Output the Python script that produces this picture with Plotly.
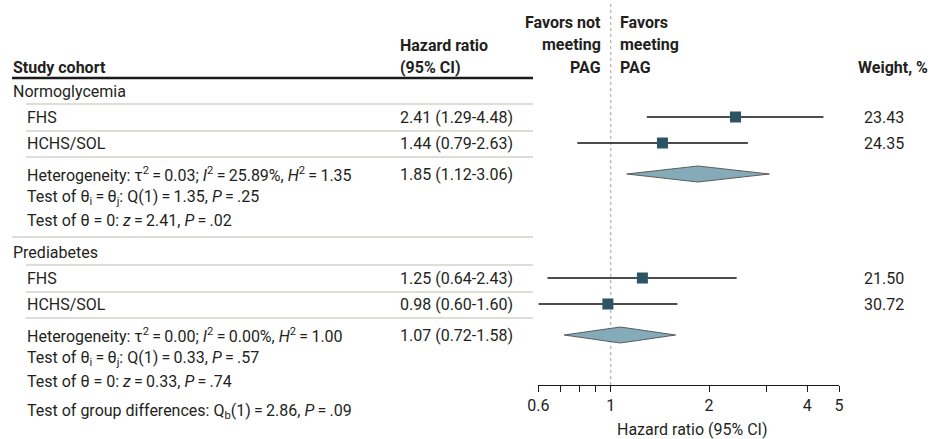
import plotly.graph_objects as go

# ---------------- data ----------------
groups = ["Normoglycemia", "Prediabetes"]
studies = ["FHS", "HCHS/SOL"]
hr = [[2.41, 1.44], [1.25, 0.98]]
hr_lo = [[1.29, 0.79], [0.64, 0.60]]
hr_hi = [[4.48, 2.63], [2.43, 1.60]]
weights = ["23.43", "24.35", "21.50", "30.72"]
pooled = [1.85, 1.07]
pooled_lo = [1.12, 0.72]
pooled_hi = [3.06, 1.58]
het_tau2 = ["0.03", "0.00"]
het_i2 = ["25.89%", "0.00%"]
het_h2 = ["1.35", "1.00"]
q_stat = ["1.35", "0.33"]
q_p = [".25", ".57"]
z_stat = ["2.41", "0.33"]
z_p = [".02", ".74"]
qb_stat = "2.86"
qb_p = ".09"
tick_vals = [0.6, 0.7, 0.8, 0.9, 1, 2, 3, 4, 5]
tick_text = ["0.6", "", "", "", "1", "2", "", "4", "5"]

# ---------------- layout constants ----------------
W, H = 935, 439
FONT = "Roboto"
FS = 16
TXT = "#231f20"
GRAY = "#bdbdb0"
SQ = "#2d5464"
DIA = "#85aab8"
AX_L, AX_R = 538.3, 839.0
AXIS_Y = 385
group_y = [91, 252]
S = "\u2009=\u2009"

def fmt(v):
    return f"{v:.2f}"

fig = go.Figure()
ann = []
shapes = []

def text(px, y, s, anchor="left", bold=False, size=FS):
    if bold:
        s = "<b>" + s + "</b>"
    ann.append(dict(x=px / W, xref="paper", y=y, yref="y", text=s, showarrow=False,
                    xanchor=anchor, yanchor="middle", font=dict(family=FONT, size=size, color=TXT)))

def hline(x0, x1, y, color=GRAY, width=1):
    shapes.append(dict(type="line", xref="paper", yref="y", x0=x0 / W, x1=x1 / W, y0=y, y1=y,
                       line=dict(color=color, width=width)))

# header
text(11, 67, "Study cohort", bold=True)
text(398, 45, "Hazard ratio", bold=True)
text(398, 67, "(95% CI)", bold=True)
for i, s in enumerate(["Favors not", "meeting", "PAG"]):
    text(603, 22 + 22.5 * i, s, anchor="right", bold=True)
for i, s in enumerate(["Favors", "meeting", "PAG"]):
    text(618, 22 + 22.5 * i, s, bold=True)
text(856, 67, "Weight, %", bold=True)
hline(12, 533, 78, color="#1a1a1a", width=2.5)

wx, wy = [], []
mx, my = [], []
k = 0
for g in range(2):
    gy = group_y[g]
    text(11, gy, groups[g])
    hline(26, 533, gy + 13)
    for s in range(2):
        ry = gy + 26 * (s + 1)
        text(25, ry, studies[s])
        text(398, ry, f"{fmt(hr[g][s])} ({fmt(hr_lo[g][s])}-{fmt(hr_hi[g][s])})")
        text(862, ry, weights[k])
        k += 1
        hline(26, 533, ry + 14)
        wx += [hr_lo[g][s], hr_hi[g][s], None]
        wy += [ry, ry, None]
        mx.append(hr[g][s])
        my.append(ry)
    hy = gy + 83
    text(25, hy, f"Heterogeneity: τ<sup>2</sup>{S}{het_tau2[g]}; <i>I</i><sup>2</sup>{S}{het_i2[g]}, <i>H</i><sup>2</sup>{S}{het_h2[g]}")
    text(25, hy + 23, f"Test of θ<sub>i</sub>{S}θ<sub>j</sub>: Q(1){S}{q_stat[g]}, <i>P</i>{S}{q_p[g]}")
    text(25, hy + 46, f"Test of θ = 0: <i>z</i>{S}{z_stat[g]}, <i>P</i>{S}{z_p[g]}")
    text(398, hy, f"{fmt(pooled[g])} ({fmt(pooled_lo[g])}-{fmt(pooled_hi[g])})")
    fig.add_trace(go.Scatter(
        x=[pooled_lo[g], pooled[g], pooled_hi[g], pooled[g], pooled_lo[g]],
        y=[hy, hy - 8, hy, hy + 8, hy], mode="lines", fill="toself",
        fillcolor=DIA, line=dict(color="#5c5c5c", width=1), hoverinfo="skip", showlegend=False))

hline(12, 533, 237)
text(25, 411, f"Test of group differences: Q<sub>b</sub>(1){S}{qb_stat}, <i>P</i>{S}{qb_p}")

fig.add_trace(go.Scatter(x=wx, y=wy, mode="lines", line=dict(color="#111111", width=1.3),
                         hoverinfo="skip", showlegend=False))
fig.add_trace(go.Scatter(x=mx, y=my, mode="markers",
                         marker=dict(symbol="square", size=11, color=SQ, line=dict(width=0)),
                         showlegend=False))

# reference line at HR = 1
shapes.append(dict(type="line", xref="x", yref="y", x0=1, x1=1, y0=4, y1=AXIS_Y,
                   line=dict(color="#a0a0a0", width=1, dash="dot"), layer="below"))

# axis title
ann.append(dict(x=692 / W, xref="paper", y=429, yref="y", text="Hazard ratio (95% CI)",
                showarrow=False, xanchor="center", yanchor="middle",
                font=dict(family=FONT, size=FS, color=TXT)))

fig.update_layout(
    width=W, height=H, margin=dict(l=0, r=0, t=0, b=0),
    paper_bgcolor="white", plot_bgcolor="white",
    xaxis=dict(type="log", domain=[AX_L / W, AX_R / W], range=[-0.2218487, 0.69897],
               anchor="free", position=1 - AXIS_Y / H, automargin=False,
               tickvals=tick_vals, ticktext=tick_text, ticks="outside", ticklen=6,
               tickcolor="#1a1a1a", showline=True, linecolor="#1a1a1a", linewidth=1,
               showgrid=False, zeroline=False, tickfont=dict(family=FONT, size=FS, color=TXT)),
    yaxis=dict(domain=[0, 1], range=[H, 0], visible=False, showgrid=False, zeroline=False),
    annotations=ann, shapes=shapes, showlegend=False,
)

fig.write_html("out.html", config={"displayModeBar": False},
               post_script="document.body.style.margin='0';")
